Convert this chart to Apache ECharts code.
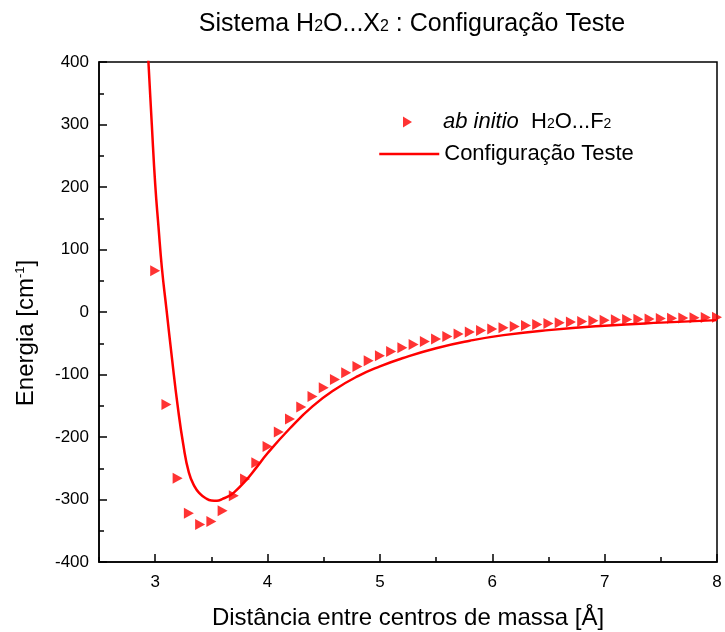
<!DOCTYPE html>
<html>
<head>
<meta charset="utf-8">
<script src="https://cdn.jsdelivr.net/npm/echarts@6/dist/echarts.min.js"></script>
<style>html,body{margin:0;padding:0;background:#fff}#c{width:725px;height:632px}</style>
</head>
<body>
<div id="c"></div>
<script>
// ab initio points (x in Å, energy in cm-1)
const abX = [3.0,3.1,3.2,3.3,3.4,3.5,3.6,3.7,3.8,3.9,4.0,4.1,4.2,4.3,4.4,4.5,4.6,4.7,4.8,4.9,5.0,5.1,5.2,5.3,5.4,5.5,5.6,5.7,5.8,5.9,6.0,6.1,6.2,6.3,6.4,6.5,6.6,6.7,6.8,6.9,7.0,7.1,7.2,7.3,7.4,7.5,7.6,7.7,7.8,7.9,8.0];
const abY = [66,-148,-266,-322,-340,-335,-318,-294,-267,-241,-215,-192,-171,-152,-135,-121,-108,-97,-87,-78,-70,-63,-57,-52,-47,-43,-39,-35,-32,-29.5,-27,-25,-23,-21.5,-20,-18.5,-17,-16,-15,-14,-13,-12.5,-12,-11.5,-11,-10.5,-10,-9.5,-9,-8.7,-8.4];
// fitted curve "Configuração Teste"
const fitX = [2.92,2.94,2.97,3.00,3.03,3.06,3.10,3.15,3.20,3.25,3.30,3.35,3.40,3.45,3.50,3.55,3.60,3.65,3.70,3.80,3.90,4.00,4.20,4.40,4.60,4.80,5.00,5.20,5.50,5.80,6.10,6.50,7.00,7.50,8.00];
const fitY = [470,400,300,205,135,70,5,-75,-150,-212,-257,-279,-291,-298,-301.5,-302,-299,-295,-289,-271,-249,-226,-186,-151,-124,-103,-87,-74,-58,-46,-37,-29,-22,-17,-13];
const xTicks = [3,4,5,6,7,8];
const yMin = -400, yMax = 400, yStep = 100;

const FONT = 'Liberation Sans, Arial, sans-serif';
const chart = echarts.init(document.getElementById('c'), null, {renderer:'canvas'});
const pair = (xs, ys) => xs.map((x,i)=>[x, ys[i]]);

chart.setOption({
  animation: false,
  backgroundColor: '#fff',
  title: {
    text: 'Sistema H{s|2}O...X{s|2} : Configuração Teste',
    left: 407, top: 7, textAlign: 'center',
    textStyle: {
      fontFamily: FONT, fontSize: 25, fontWeight: 'normal', color: '#000',
      rich: { s: { fontFamily: FONT, fontSize: 16, color: '#000', padding:[5,0,0,0] } }
    }
  },
  legend: [
    {
      data: [{name: 'ab initio H2O...F2', icon: 'path://M0,0L9,5.5L0,11Z'}],
      left: 403, top: 111, padding: 0, itemWidth: 9, itemHeight: 11, symbolRotate: 0,
      formatter: () => '{g|}{i|ab initio}  H{s|2}O...F{s|2}',
      textStyle: {
        fontFamily: FONT, fontSize: 22, color: '#000',
        rich: {
          g: { width: 26 },
          i: { fontFamily: FONT, fontSize: 22, fontStyle: 'italic', color: '#000' },
          s: { fontFamily: FONT, fontSize: 14, color: '#000', padding:[5,0,0,0] }
        }
      }
    },
    {
      data: ['Configuração Teste'],
      left: 378, top: 143, padding: 0, itemWidth: 60, itemHeight: 14,
      itemStyle: { opacity: 0 },
      lineStyle: { color: '#ff0000', width: 2.5, opacity: 1 },
      textStyle: { fontFamily: FONT, fontSize: 22, color: '#000' }
    }
  ],
  grid: { left: 99, right: 8, top: 62, bottom: 70, outerBoundsMode: 'none', show: true, borderColor: '#000', borderWidth: 1.5, backgroundColor: 'transparent' },
  xAxis: [
    {
      type: 'value', min: 2.5, max: 8,
      name: 'Distância entre centros de massa [Å]', nameLocation: 'middle', nameGap: 44,
      nameTextStyle: { fontFamily: FONT, fontSize: 24, color: '#000' },
      axisLine: { onZero: false, lineStyle: { color: '#000', width: 1.5 } },
      axisTick: { inside: true, length: 8, customValues: xTicks, lineStyle: { color: '#000', width: 1.5 } },
      axisLabel: { customValues: xTicks, margin: 12, fontFamily: FONT, fontSize: 17, color: '#000' },
      splitLine: { show: false }
    },
    {
      type: 'value', min: 2.5, max: 8, interval: 0.5, position: 'bottom',
      axisLine: { show: false, onZero: false },
      axisTick: { inside: true, length: 5, lineStyle: { color: '#000', width: 1.5 } },
      axisLabel: { show: false },
      splitLine: { show: false }
    }
  ],
  yAxis: {
    type: 'value', min: yMin, max: yMax, interval: yStep,
    name: 'Energia [cm{sup|-1}]', nameLocation: 'middle', nameGap: 60,
    nameTextStyle: {
      fontFamily: FONT, fontSize: 24, color: '#000', padding: [0, 42, 0, 0],
      rich: { sup: { fontFamily: FONT, fontSize: 13, color: '#000', verticalAlign: 'top', padding: [0,0,12,0] } }
    },
    axisLine: { onZero: false, lineStyle: { color: '#000', width: 1.5 } },
    axisTick: { inside: true, length: 8, lineStyle: { color: '#000', width: 1.5 } },
    minorTick: { show: true, splitNumber: 2, length: 5, lineStyle: { color: '#000', width: 1.5 } },
    axisLabel: { margin: 10, fontFamily: FONT, fontSize: 17, color: '#000' },
    splitLine: { show: false }
  },
  series: [
    {
      name: 'Configuração Teste', type: 'line', data: pair(fitX, fitY),
      showSymbol: false, symbol: 'none', smooth: 0.5,
      lineStyle: { color: '#ff0000', width: 2.5 }, itemStyle: { color: '#ff0000' },
      clip: true, z: 2
    },
    {
      name: 'ab initio H2O...F2', type: 'scatter', data: pair(abX, abY),
      symbol: 'triangle', symbolSize: [11, 10], symbolRotate: -90,
      itemStyle: { color: '#ff0000' }, clip: false, z: 3
    }
  ]
});
</script>
</body>
</html>
